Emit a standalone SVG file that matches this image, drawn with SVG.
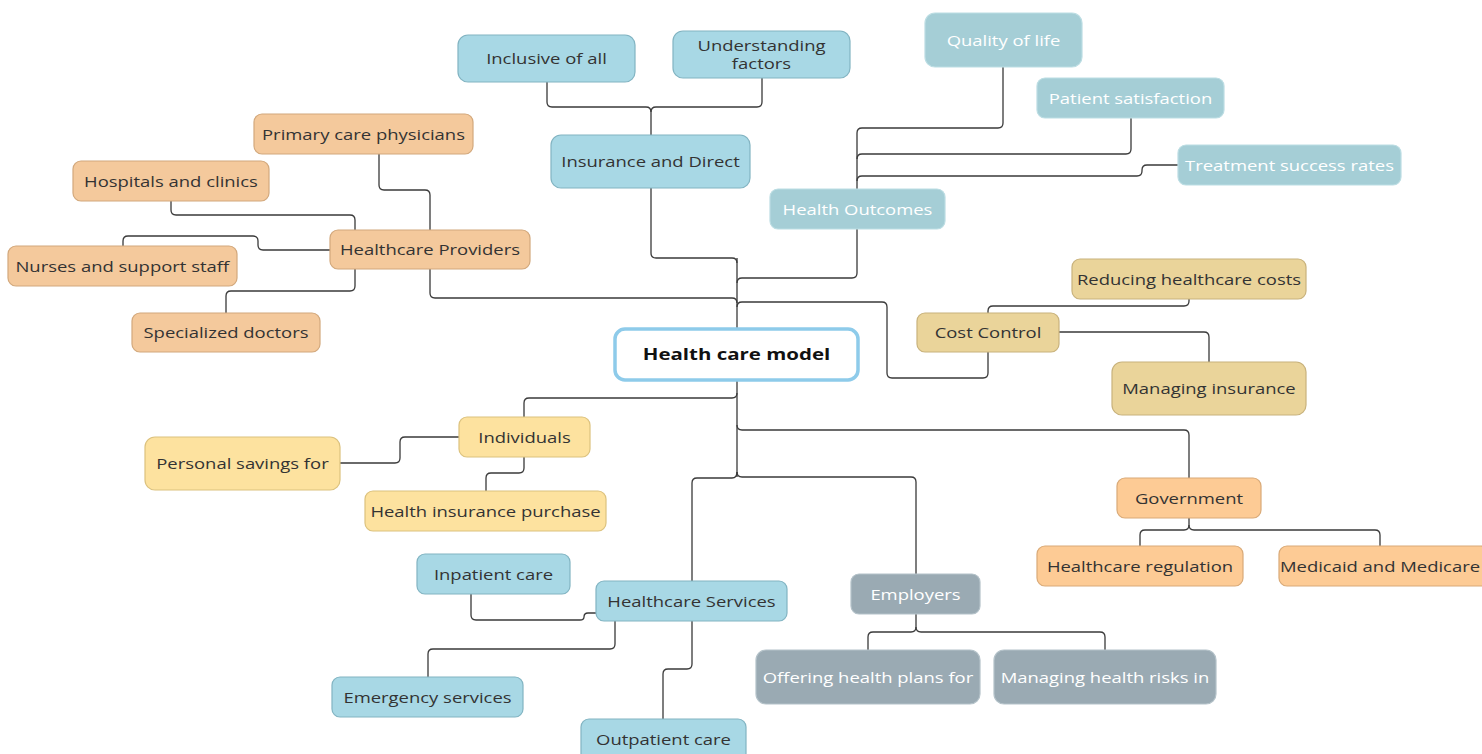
<svg xmlns="http://www.w3.org/2000/svg" width="1482" height="754" viewBox="0 0 1482 754">
  <style>
    .n rect { stroke-width: 1.2; }
    .n text { font-family: "Open Sans", "Liberation Sans", sans-serif; font-size: 15px; text-anchor: middle; dominant-baseline: central; fill: #333;
              transform-box: fill-box; transform-origin: center; transform: scaleX(1.23); }
    .blue rect { fill: #a8d8e5; stroke: #82b4c2; }
    .teal rect { fill: #a5ced6; stroke: #bcdde3; }
    .teal text, .gray text { fill: #fff; }
    .prov rect { fill: #f4c99c; stroke: #d2a87c; }
    .cost rect { fill: #ead49a; stroke: #c8b27c; }
    .indiv rect { fill: #fde29f; stroke: #dcc27e; }
    .gov rect { fill: #fdcb95; stroke: #d9aa78; }
    .gray rect { fill: #9aaab3; stroke: #b4c2c9; }
    .root rect { fill: #fff; stroke: #8ecbea; stroke-width: 3.5; }
    .root text { font-weight: bold; font-size: 15.5px; fill: #111; transform: scaleX(1.32); }
    #connectors path { fill: none; stroke: #3a3a3a; stroke-width: 1.3; }
  </style>

  <g id="connectors">
    <!-- trunk -->
    <path d="M737 258 V477"/>
    <!-- first-level branches -->
    <path d="M651 188 V253 Q651 258 656 258 H732 Q737 258 737 263"/>
    <path d="M857 229 V273 Q857 278 852 278 H742 Q737 278 737 283"/>
    <path d="M430 269 V293 Q430 298 435 298 H732 Q737 298 737 303"/>
    <path d="M737 307 Q737 302 742 302 H882 Q887 302 887 307 V373 Q887 378 892 378 H983 Q988 378 988 373 V352"/>
    <path d="M737 393 Q737 398 732 398 H529 Q524 398 524 403 V417"/>
    <path d="M737 425 Q737 430 742 430 H1184 Q1189 430 1189 435 V478"/>
    <path d="M737 472 Q737 477 742 477 H911 Q916 477 916 482 V574"/>
    <path d="M737 472 Q737 478 732 478 H697 Q692 478 692 483 V581"/>
    <!-- Insurance and Direct -->
    <path d="M651 135 V112 Q651 107 646 107 H552 Q547 107 547 102 V82"/>
    <path d="M651 112 Q651 107 656 107 H757 Q762 107 762 102 V78"/>
    <!-- Health Outcomes -->
    <path d="M857 189 V133 Q857 128 862 128 H998 Q1003 128 1003 123 V67"/>
    <path d="M857 159 Q857 154 862 154 H1126 Q1131 154 1131 149 V118"/>
    <path d="M857 181 Q857 176 862 176 H1137 Q1142 176 1142 171 V170 Q1142 165 1147 165 H1178"/>
    <!-- Healthcare Providers -->
    <path d="M430 230 V195 Q430 190 425 190 H384 Q379 190 379 185 V154"/>
    <path d="M171 201 V210 Q171 215 176 215 H350 Q355 215 355 220 V230"/>
    <path d="M330 250 H263 Q258 250 258 245 V241 Q258 236 253 236 H128 Q123 236 123 241 V246"/>
    <path d="M355 269 V286 Q355 291 350 291 H231 Q226 291 226 296 V313"/>
    <!-- Cost Control -->
    <path d="M988 313 V311 Q988 306 993 306 H1184 Q1189 306 1189 301 V299"/>
    <path d="M1059 332 H1204 Q1209 332 1209 337 V362"/>
    <!-- Individuals -->
    <path d="M459 437 H405 Q400 437 400 442 V458 Q400 463 395 463 H340"/>
    <path d="M524 457 V468 Q524 473 519 473 H491 Q486 473 486 478 V491"/>
    <!-- Government -->
    <path d="M1189 518 V525 Q1189 530 1184 530 H1145 Q1140 530 1140 535 V546"/>
    <path d="M1189 525 Q1189 530 1194 530 H1375 Q1380 530 1380 535 V546"/>
    <!-- Employers -->
    <path d="M916 614 V627 Q916 632 911 632 H873 Q868 632 868 637 V650"/>
    <path d="M916 627 Q916 632 921 632 H1100 Q1105 632 1105 637 V650"/>
    <!-- Healthcare Services -->
    <path d="M596 613 H588 Q584 613 584 617 Q584 620 580 620 H476 Q471 620 471 615 V594"/>
    <path d="M615 621 V644 Q615 649 610 649 H433 Q428 649 428 654 V677"/>
    <path d="M692 621 V664 Q692 669 687 669 H668 Q663 669 663 674 V719"/>
  </g>

  <g id="root" class="n root"><rect x="615" y="329" width="243" height="51" rx="10"/><text x="736.5" y="354.5">Health care model</text></g>

  <g id="insurance" class="n blue"><rect x="551" y="135" width="199" height="53" rx="10"/><text x="650.5" y="161.5">Insurance and Direct</text></g>
  <g id="inclusive" class="n blue"><rect x="458" y="35" width="177" height="47" rx="10"/><text x="546.5" y="58.5">Inclusive of all</text></g>
  <g id="understanding" class="n blue"><rect x="673" y="31" width="177" height="47" rx="10"/><text x="761.5" y="45.5">Understanding</text><text x="761.5" y="63.5">factors</text></g>

  <g id="outcomes" class="n teal"><rect x="770" y="189" width="175" height="40" rx="8"/><text x="857.5" y="209">Health Outcomes</text></g>
  <g id="quality" class="n teal"><rect x="925" y="13" width="157" height="54" rx="10"/><text x="1003.5" y="40">Quality of life</text></g>
  <g id="satisfaction" class="n teal"><rect x="1037" y="78" width="187" height="40" rx="8"/><text x="1130.5" y="98">Patient satisfaction</text></g>
  <g id="success" class="n teal"><rect x="1178" y="145" width="223" height="40" rx="8"/><text x="1289.5" y="165">Treatment success rates</text></g>

  <g id="providers" class="n prov"><rect x="330" y="230" width="200" height="39" rx="8"/><text x="430" y="249.5">Healthcare Providers</text></g>
  <g id="primary" class="n prov"><rect x="254" y="114" width="219" height="40" rx="8"/><text x="363.5" y="134.5">Primary care physicians</text></g>
  <g id="hospitals" class="n prov"><rect x="73" y="161" width="196" height="40" rx="8"/><text x="171" y="181">Hospitals and clinics</text></g>
  <g id="nurses" class="n prov"><rect x="8" y="246" width="229" height="40" rx="8"/><text x="122.5" y="266">Nurses and support staff</text></g>
  <g id="specialized" class="n prov"><rect x="132" y="313" width="188" height="39" rx="8"/><text x="226" y="332.5">Specialized doctors</text></g>

  <g id="cost" class="n cost"><rect x="917" y="313" width="142" height="39" rx="8"/><text x="988" y="332.5">Cost Control</text></g>
  <g id="reducing" class="n cost"><rect x="1072" y="259" width="234" height="40" rx="8"/><text x="1189" y="279">Reducing healthcare costs</text></g>
  <g id="managing-ins" class="n cost"><rect x="1112" y="362" width="194" height="53" rx="10"/><text x="1209" y="388.5">Managing insurance</text></g>

  <g id="individuals" class="n indiv"><rect x="459" y="417" width="131" height="40" rx="8"/><text x="524.5" y="437">Individuals</text></g>
  <g id="savings" class="n indiv"><rect x="145" y="437" width="195" height="53" rx="10"/><text x="242.5" y="463.5">Personal savings for</text></g>
  <g id="purchase" class="n indiv"><rect x="365" y="491" width="241" height="40" rx="8"/><text x="485.5" y="511">Health insurance purchase</text></g>

  <g id="government" class="n gov"><rect x="1117" y="478" width="144" height="40" rx="8"/><text x="1189" y="498">Government</text></g>
  <g id="regulation" class="n gov"><rect x="1037" y="546" width="206" height="40" rx="8"/><text x="1140" y="566">Healthcare regulation</text></g>
  <g id="medicaid" class="n gov"><rect x="1279" y="546" width="210" height="40" rx="8"/><text x="1380" y="566">Medicaid and Medicare</text></g>

  <g id="employers" class="n gray"><rect x="851" y="574" width="129" height="40" rx="8"/><text x="915.5" y="594">Employers</text></g>
  <g id="offering" class="n gray"><rect x="756" y="650" width="224" height="54" rx="10"/><text x="868" y="677">Offering health plans for</text></g>
  <g id="risks" class="n gray"><rect x="994" y="650" width="222" height="54" rx="10"/><text x="1105" y="677">Managing health risks in</text></g>

  <g id="services" class="n blue"><rect x="596" y="581" width="191" height="40" rx="8"/><text x="691.5" y="601">Healthcare Services</text></g>
  <g id="inpatient" class="n blue"><rect x="417" y="554" width="153" height="40" rx="8"/><text x="493.5" y="574">Inpatient care</text></g>
  <g id="emergency" class="n blue"><rect x="332" y="677" width="191" height="40" rx="8"/><text x="427.5" y="697">Emergency services</text></g>
  <g id="outpatient" class="n blue"><rect x="581" y="719" width="165" height="44" rx="8"/><text x="663.5" y="739">Outpatient care</text></g>
</svg>
